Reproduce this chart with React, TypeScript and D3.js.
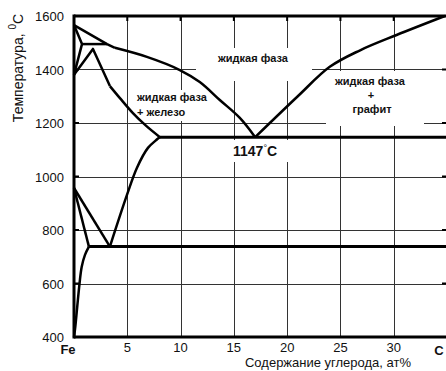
import React from 'react';
import * as d3 from 'd3';

// temperature axis ticks and carbon axis ticks
const tempTicks = [400, 600, 800, 1000, 1200, 1400, 1600];
const carbonTicks = [5, 10, 15, 20, 25, 30];

// phase boundaries: [at% C, °C]
const liquidusDelta: [number, number][] = [[0, 1566], [3.1, 1495], [3.84, 1481]];
const liquidusGamma: [number, number][] = [[3.84, 1481], [6.84, 1447], [9.93, 1398], [11.8, 1353], [13.68, 1286], [15.56, 1219], [17, 1147]];
const liquidusGraphite: [number, number][] = [[17, 1147], [21, 1300], [24, 1410], [26.8, 1471], [30.27, 1529], [34.8, 1600]];
const peritectic: [number, number][] = [[0.75, 1495], [3.1, 1495]];
const deltaSolidus: [number, number][] = [[0, 1566], [0.75, 1495], [0, 1380]];
const gammaRise: [number, number][] = [[0, 1380], [1.78, 1477], [3.37, 1338]];
const gammaSolidus: [number, number][] = [[3.37, 1338], [4.31, 1293], [5.53, 1237], [6.75, 1190], [8.06, 1147]];
const acm: [number, number][] = [[3.37, 738], [4.97, 931], [5.9, 1032], [6.94, 1107], [8.06, 1147]];
const a3: [number, number][] = [[0, 957], [3.37, 738]];
const alphaLine: [number, number][] = [[0, 957], [1.4, 738]];
const alphaSolvus: [number, number][] = [[1.4, 738], [1.03, 707], [0.72, 662], [0.52, 600], [0.3, 512], [0.1, 430], [0, 400]];
const eutectic: [number, number][] = [[8.06, 1147], [35, 1147]];
const eutectoid: [number, number][] = [[1.4, 738], [35, 738]];

const W = 446;
const H = 371;

export default function App() {
  const x = d3.scaleLinear().domain([0, 35]).range([74, 447]);
  const y = d3.scaleLinear().domain([400, 1600]).range([337, 16]);

  const straight = d3.line<[number, number]>().x(d => x(d[0])).y(d => y(d[1]));
  const smooth = d3.line<[number, number]>().x(d => x(d[0])).y(d => y(d[1])).curve(d3.curveCatmullRom.alpha(0.5));

  const font = "'Liberation Sans', Arial, sans-serif";
  const ink = '#111';

  const thinLines = [liquidusDelta, peritectic, deltaSolidus, gammaRise, a3, alphaLine];
  const curves = [liquidusGamma, liquidusGraphite, gammaSolidus, acm, alphaSolvus];

  return (
    <svg width={W} height={H} style={{ position: 'absolute', left: 0, top: 0, background: '#fff' }}>
      {/* grid */}
      {carbonTicks.map(t => (
        <line key={'gx' + t} x1={Math.round(x(t)) + 0.5} x2={Math.round(x(t)) + 0.5} y1={y(1600)} y2={y(400)} stroke="#333" strokeWidth={1} />
      ))}
      {tempTicks.filter(t => t > 400 && t < 1600).map(t => (
        <line key={'gy' + t} x1={x(0)} x2={W} y1={Math.round(y(t)) + 0.5} y2={Math.round(y(t)) + 0.5} stroke="#333" strokeWidth={1} />
      ))}

      {/* label backgrounds cut the grid */}
      <rect x={196} y={48} width={116} height={33} fill="#fff" />
      <rect x={135} y={90} width={86} height={31} fill="#fff" />
      <rect x={326} y={71} width={98} height={55} fill="#fff" />
      <rect x={230} y={140} width={60} height={22} fill="#fff" />

      {/* ticks */}
      {tempTicks.map(t => (
        <g key={'ty' + t}>
          <line x1={x(0)} x2={x(0) + 5} y1={y(t)} y2={y(t)} stroke="#000" strokeWidth={2} />
          <line x1={W - 4} x2={W} y1={y(t)} y2={y(t)} stroke="#000" strokeWidth={2} />
        </g>
      ))}
      {carbonTicks.map(t => (
        <line key={'tx' + t} x1={x(t)} x2={x(t)} y1={y(1600)} y2={y(1600) + 5} stroke="#000" strokeWidth={2} />
      ))}

      {/* phase lines */}
      {thinLines.map((d, i) => (
        <path key={'s' + i} d={straight(d) || ''} fill="none" stroke="#000" strokeWidth={2.5} strokeLinejoin="round" />
      ))}
      {curves.map((d, i) => (
        <path key={'c' + i} d={smooth(d) || ''} fill="none" stroke="#000" strokeWidth={2.5} strokeLinejoin="round" />
      ))}
      <path d={straight(eutectic) || ''} fill="none" stroke="#000" strokeWidth={3} />
      <path d={straight(eutectoid) || ''} fill="none" stroke="#000" strokeWidth={3} />

      {/* frame */}
      <line x1={x(0)} x2={W} y1={y(1600)} y2={y(1600)} stroke="#000" strokeWidth={3} />
      <line x1={x(0)} x2={W} y1={y(400)} y2={y(400)} stroke="#000" strokeWidth={3} />
      <line x1={x(0)} x2={x(0)} y1={y(1600) - 1.5} y2={y(400) + 1.5} stroke="#000" strokeWidth={3} />

      {/* tick labels */}
      {tempTicks.map(t => (
        <text key={'ly' + t} x={64} y={y(t) + 5} textAnchor="end" fontFamily={font} fontSize={13} fill={ink}>{t}</text>
      ))}
      {carbonTicks.map(t => (
        <text key={'lx' + t} x={x(t)} y={352} textAnchor="middle" fontFamily={font} fontSize={13} fill={ink}>{t}</text>
      ))}
      <text x={68} y={354} textAnchor="middle" fontFamily={font} fontSize={13} fontWeight="bold" fill={ink}>Fe</text>
      <text x={439} y={355} textAnchor="middle" fontFamily={font} fontSize={13} fontWeight="bold" fill={ink}>C</text>

      {/* axis titles */}
      <text x={328} y={367} textAnchor="middle" fontFamily={font} fontSize={13} fill={ink}>Содержание углерода, ат%</text>
      <text transform="translate(23,68) rotate(-90)" textAnchor="middle" fontFamily={font} fontSize={14} fill={ink}>
        Температура, <tspan dy={-7} fontSize={10}>0</tspan><tspan dy={7}>C</tspan>
      </text>

      {/* region labels */}
      <text x={253} y={62} textAnchor="middle" fontFamily={font} fontSize={11} fontWeight="bold" fill={ink}>жидкая фаза</text>
      <text x={137} y={101} fontFamily={font} fontSize={11} fontWeight="bold" fill={ink}>жидкая фаза</text>
      <text x={137} y={116} fontFamily={font} fontSize={11} fontWeight="bold" fill={ink}>+ железо</text>
      <text x={370} y={85} textAnchor="middle" fontFamily={font} fontSize={11} fontWeight="bold" fill={ink}>жидкая фаза</text>
      <text x={371} y={99} textAnchor="middle" fontFamily={font} fontSize={11} fontWeight="bold" fill={ink}>+</text>
      <text x={372} y={113} textAnchor="middle" fontFamily={font} fontSize={11} fontWeight="bold" fill={ink}>графит</text>
      <text x={233} y={156} fontFamily={font} fontSize={14} fontWeight="bold" fill={ink}>
        1147<tspan dy={-5} fontSize={9} fontWeight="normal">°</tspan><tspan dy={5}>C</tspan>
      </text>
    </svg>
  );
}
